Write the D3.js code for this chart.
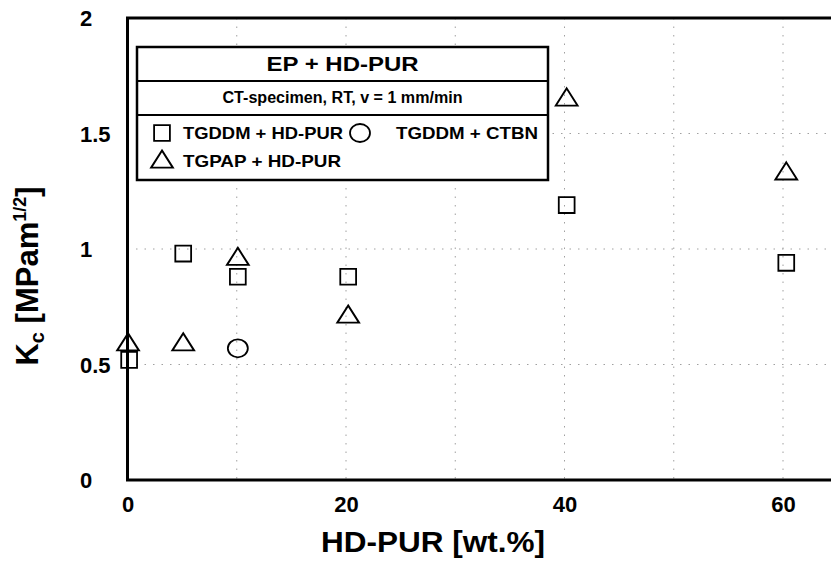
<!DOCTYPE html>
<html>
<head>
<meta charset="utf-8">
<script src="https://cdn.jsdelivr.net/npm/d3@7"></script>
<style>
  body { margin: 0; background: #fff; }
  svg { display: block; font-family: "Liberation Sans", Arial, Helvetica, sans-serif; font-weight: bold; }
  .grid line { stroke: #a0a0a0; stroke-width: 1; stroke-dasharray: 1.5 7; }
  .mark { fill: none; stroke: #000; stroke-width: 1.8; }
</style>
</head>
<body>
<svg width="831" height="573"></svg>
<script>
// data
var xTicks = [0, 20, 40, 60];
var yTicks = [0, 0.5, 1, 1.5, 2];
var xGrid = [10, 20, 30, 40, 50, 60];
var yGrid = [0.5, 1, 1.5];

// TGDDM + HD-PUR (squares)
var hdpurX = [0.15, 5.1, 10.1, 20.2, 40.2, 60.3];
var hdpurY = [0.52, 0.98, 0.88, 0.88, 1.19, 0.94];
// TGPAP + HD-PUR (triangles)
var tgpapX = [0.05, 5.1, 10.1, 20.2, 40.2, 60.3];
var tgpapY = [0.59, 0.59, 0.96, 0.71, 1.65, 1.33];
// TGDDM + CTBN (circle)
var ctbnX = [10.1];
var ctbnY = [0.57];

var legendTitle = "EP + HD-PUR";
var legendSub = "CT-specimen, RT, v = 1 mm/min";

var svg = d3.select("svg");

// plot box (right side runs off the picture)
var pLeft = 127.5, pRight = 831, pTop = 18, pBottom = 480;

var x = d3.scaleLinear().domain([0, 60]).range([pLeft, 783]);
var y = d3.scaleLinear().domain([0, 2]).range([pBottom, pTop]);

// grid (dotted, faint)
var grid = svg.append("g").attr("class", "grid");
grid.selectAll(".gx").data(xGrid).enter().append("line")
    .attr("x1", d => x(d)).attr("x2", d => x(d))
    .attr("y1", pTop).attr("y2", pBottom);
grid.selectAll(".gy").data(yGrid).enter().append("line")
    .attr("x1", pLeft).attr("x2", pRight)
    .attr("y1", d => y(d)).attr("y2", d => y(d));

// frame
svg.append("path")
    .attr("d", "M" + pRight + "," + pTop + "H" + pLeft + "V" + pBottom + "H" + pRight)
    .attr("fill", "none").attr("stroke", "#000").attr("stroke-width", 3);

// x axis labels
var xAxis = svg.append("g")
    .attr("transform", "translate(0," + pBottom + ")")
    .call(d3.axisBottom(x).tickValues(xTicks).tickSize(0).tickPadding(0).tickFormat(d3.format("d")));
xAxis.select(".domain").remove();
xAxis.attr("font-size", 22).attr("font-family", null);
xAxis.selectAll("text")
    .attr("y", 32).attr("dy", null)
    .attr("fill", "#000");

// y axis labels (left aligned in the original)
var yAxis = svg.append("g")
    .attr("transform", "translate(" + pLeft + ",0)")
    .call(d3.axisLeft(y).tickValues(yTicks).tickSize(0).tickFormat(d => d));
yAxis.select(".domain").remove();
yAxis.attr("font-size", 22).attr("font-family", null).attr("text-anchor", "start");
yAxis.selectAll("text")
    .attr("x", 80 - pLeft).attr("dy", "0.36em")
    .attr("fill", "#000");

// axis titles
svg.append("text")
    .attr("x", 433).attr("y", 552)
    .attr("text-anchor", "middle")
    .attr("font-size", 30)
    .attr("textLength", 224).attr("lengthAdjust", "spacingAndGlyphs")
    .text("HD-PUR [wt.%]");

var yt = svg.append("text")
    .attr("transform", "translate(38,276) rotate(-90)")
    .attr("text-anchor", "middle")
    .attr("font-size", 31);
yt.append("tspan").text("K");
yt.append("tspan").attr("font-size", 20).attr("dy", 6).text("c");
yt.append("tspan").attr("dy", -6).text(" [MPam");
yt.append("tspan").attr("font-size", 18).attr("dy", -12).text("1/2");
yt.append("tspan").attr("dy", 12).text("]");

// markers
var sq = d3.symbol().type(d3.symbolSquare).size(250);
var tri = d3.symbol().type(d3.symbolTriangle).size(170);

svg.selectAll(".sq").data(hdpurX).enter().append("path")
    .attr("class", "mark")
    .attr("transform", (d, i) => "translate(" + x(d) + "," + y(hdpurY[i]) + ")")
    .attr("d", sq);

svg.selectAll(".tri").data(tgpapX).enter().append("path")
    .attr("class", "mark")
    .attr("transform", (d, i) => "translate(" + x(d) + "," + (y(tgpapY[i]) + 1) + ") scale(1.1,1)")
    .attr("d", tri);

svg.selectAll(".circ").data(ctbnX).enter().append("ellipse")
    .attr("class", "mark")
    .attr("cx", d => x(d))
    .attr("cy", (d, i) => y(ctbnY[i]))
    .attr("rx", 10).attr("ry", 9);

// legend box
var lg = svg.append("g");
var lx0 = 137, lx1 = 548, ly0 = 47, ly1 = 81, ly2 = 115, ly3 = 180;
lg.append("rect")
    .attr("x", lx0).attr("y", ly0).attr("width", lx1 - lx0).attr("height", ly3 - ly0)
    .attr("fill", "#fff").attr("stroke", "#000").attr("stroke-width", 2.5);
lg.selectAll(".sep").data([ly1, ly2]).enter().append("line")
    .attr("x1", lx0).attr("x2", lx1)
    .attr("y1", d => d).attr("y2", d => d)
    .attr("stroke", "#000").attr("stroke-width", 2);

lg.append("text")
    .attr("x", (lx0 + lx1) / 2).attr("y", 71)
    .attr("text-anchor", "middle").attr("font-size", 21)
    .attr("textLength", 152).attr("lengthAdjust", "spacingAndGlyphs")
    .text(legendTitle);
lg.append("text")
    .attr("x", (lx0 + lx1) / 2).attr("y", 103)
    .attr("text-anchor", "middle").attr("font-size", 16)
    .attr("textLength", 240).attr("lengthAdjust", "spacingAndGlyphs")
    .text(legendSub);

var items = [
  {sym: "sq", label: "TGDDM + HD-PUR", sx: 162, tx: 183, yy: 133, w: 160},
  {sym: "circ", label: "TGDDM + CTBN", sx: 360, tx: 396, yy: 133, w: 142},
  {sym: "tri", label: "TGPAP + HD-PUR", sx: 162, tx: 183, yy: 161, w: 158}
];
items.forEach(function(it) {
  if (it.sym === "sq") {
    lg.append("path").attr("class", "mark")
      .attr("transform", "translate(" + it.sx + "," + it.yy + ")").attr("d", sq);
  } else if (it.sym === "tri") {
    lg.append("path").attr("class", "mark")
      .attr("transform", "translate(" + it.sx + "," + (it.yy + 1) + ") scale(1.1,1)").attr("d", tri);
  } else {
    lg.append("ellipse").attr("class", "mark")
      .attr("cx", it.sx).attr("cy", it.yy).attr("rx", 10).attr("ry", 9);
  }
  lg.append("text")
    .attr("x", it.tx).attr("y", it.yy + 6)
    .attr("font-size", 17)
    .attr("textLength", it.w).attr("lengthAdjust", "spacingAndGlyphs")
    .text(it.label);
});
</script>
</body>
</html>
